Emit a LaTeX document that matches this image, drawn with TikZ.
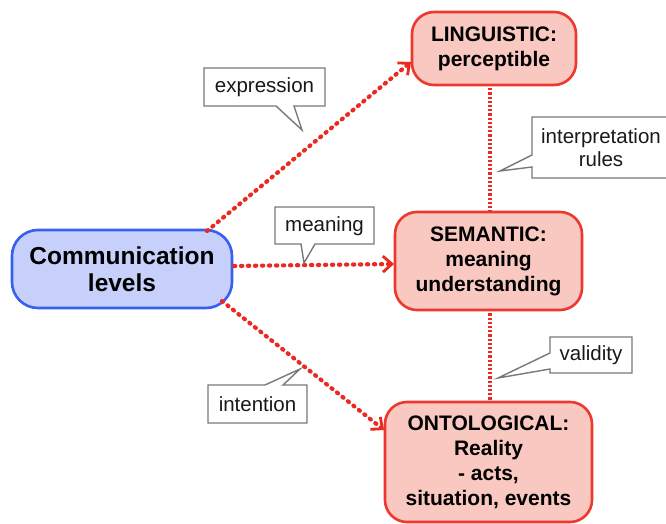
\documentclass[tikz,border=0pt]{standalone}
\usepackage{fontspec}
\setmainfont{Liberation Sans}
\usetikzlibrary{arrows.meta}
\definecolor{bfill}{RGB}{198,208,250}
\definecolor{bline}{RGB}{55,95,240}
\definecolor{rfill}{RGB}{249,200,192}
\definecolor{rline}{RGB}{238,55,45}
\definecolor{dotred}{RGB}{236,40,32}
\definecolor{cgray}{RGB}{120,120,120}
\tikzset{
  commbox/.style={draw=bline, fill=bfill, line width=2.6pt, rounded corners=26pt,
    align=center, inner sep=0pt, font=\fontsize{24.5}{27}\selectfont\bfseries},
  levelbox/.style={draw=rline, fill=rfill, line width=2.6pt, rounded corners=22pt,
    align=center, inner sep=0pt, font=\fontsize{21}{25}\selectfont\bfseries},
  dotlink/.style={draw=dotred, line width=4.2pt, dash pattern=on 1.2pt off 5.8pt, line cap=round},
  finedots/.style={draw=dotred, line width=3.6pt, dash pattern=on 2.2pt off 2pt, line cap=butt},
  dotarrow/.style={dotlink, -{Straight Barb[length=9pt,width=16pt,line width=2.8pt]}},
  callout/.style={draw=cgray, fill=white, line width=1.4pt, line join=miter},
  calltext/.style={font=\fontsize{20.5}{23}\selectfont, text=black!90, align=center, inner sep=0pt}
}
\begin{document}
\begin{tikzpicture}[x=1pt,y=-1pt]
\useasboundingbox (0,0) rectangle (666,524);
\fill[white] (0,0) rectangle (666,524);

% nodes
\node[commbox, minimum width=220pt, minimum height=78pt] (comm) at (122,269) {Communication\\levels};
\node[levelbox, minimum width=164pt, minimum height=73pt] (ling) at (494,48.5) {LINGUISTIC:\\perceptible};
\node[levelbox, minimum width=187pt, minimum height=98pt] (sem) at (488.5,261) {SEMANTIC:\\meaning\\understanding};
\node[levelbox, minimum width=207pt, minimum height=120pt] (onto) at (488.5,462) {ONTOLOGICAL:\\Reality\\- acts,\\situation, events};

% connectors
\coordinate (c1) at (207,231);
\coordinate (c2) at (234,266);
\coordinate (c3) at (222,301);
\coordinate (l1) at (411,62);
\coordinate (s1) at (394,264);
\coordinate (o1) at (384,430);
\draw[dotarrow] (c1) -- (l1);
\draw[dotarrow] (c2) -- (s1);
\draw[dotarrow] (c3) -- (o1);
\draw[finedots] (ling.south -| 490,0) ++(0,2) -- (sem.north -| 490,0);
\draw[finedots] (sem.south -| 490,0) ++(0,2) -- (onto.north -| 490,0);

% callouts
\draw[callout] (204,68) -- (325,68) -- (325,106) -- (294,106) -- (302,130) -- (276,106) -- (204,106) -- cycle;
\node[calltext] (expr) at (264.5,87.5) {expression};

\draw[callout] (275,207) -- (374,207) -- (374,244) -- (315,244) -- (304,263) -- (301,244) -- (275,244) -- cycle;
\node[calltext] (mean) at (324.5,226) {meaning};

\draw[callout] (532,117) -- (672,117) -- (672,178) -- (532,178) -- (532,167) -- (500,171) -- (532,155) -- cycle;
\node[calltext] (interp) at (601,148) {interpretation\\rules};

\draw[callout] (550,337) -- (632,337) -- (632,373) -- (550,373) -- (550,369) -- (498,378) -- (550,353) -- cycle;
\node[calltext] (valid) at (591,355) {validity};

\draw[callout] (208,385) -- (265,385) -- (300,369) -- (283,385) -- (307,385) -- (307,423) -- (208,423) -- cycle;
\node[calltext] (inten) at (257.5,404.5) {intention};
\end{tikzpicture}
\end{document}
